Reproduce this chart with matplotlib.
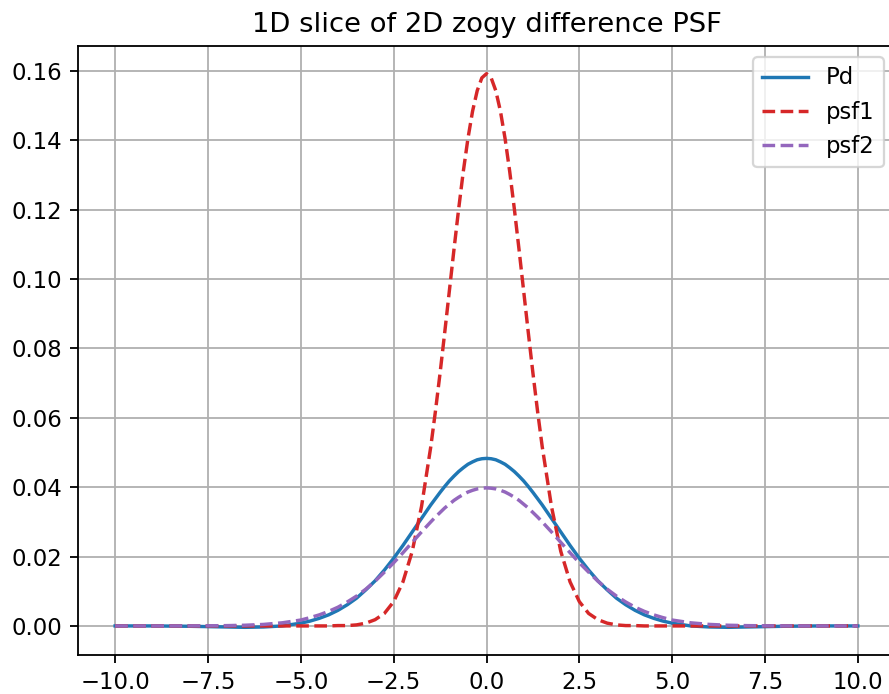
import matplotlib
matplotlib.use('Agg')
import matplotlib.pyplot as plt

# posiciones del corte 1D (más finas cerca del pico)
x = [-10.0, -9.5, -9.0, -8.5, -8.0, -7.5, -7.0, -6.5, -6.0, -5.5,
     -5.0, -4.75, -4.5, -4.25, -4.0, -3.75, -3.5, -3.25, -3.0, -2.75,
     -2.5, -2.25, -2.0, -1.75, -1.5, -1.375, -1.25, -1.125, -1.0, -0.875,
     -0.75, -0.625, -0.5, -0.375, -0.25, -0.125,
     0.0,
     0.125, 0.25, 0.375, 0.5, 0.625, 0.75, 0.875, 1.0, 1.125, 1.25,
     1.375, 1.5, 1.75, 2.0, 2.25, 2.5, 2.75, 3.0, 3.25, 3.5,
     3.75, 4.0, 4.25, 4.5, 4.75, 5.0,
     5.5, 6.0, 6.5, 7.0, 7.5, 8.0, 8.5, 9.0, 9.5, 10.0]

pd_vals = [0.0, 0.0, 0.0, -0.00005, -0.0001, -0.0002, -0.0003, -0.0004, -0.0003, 0.0,
           0.0008, 0.0014, 0.0022, 0.0032, 0.0045, 0.0061, 0.0080, 0.0104, 0.0130, 0.0161,
           0.0195, 0.0232, 0.0271, 0.0310, 0.0349, 0.0367, 0.0385, 0.0402, 0.0418, 0.0432,
           0.0445, 0.0456, 0.0466, 0.0473, 0.0479, 0.0482,
           0.0483,
           0.0482, 0.0479, 0.0473, 0.0466, 0.0456, 0.0445, 0.0432, 0.0418, 0.0402, 0.0385,
           0.0367, 0.0349, 0.0310, 0.0271, 0.0232, 0.0195, 0.0161, 0.0130, 0.0104, 0.0080,
           0.0061, 0.0045, 0.0032, 0.0022, 0.0014, 0.0008,
           0.0, -0.0003, -0.0004, -0.0003, -0.0002, -0.0001, -0.00005, 0.0, 0.0, 0.0]

psf1_vals = [0.0, 0.0, 0.0, 0.0, 0.0, 0.0, 0.0, 0.0, 0.0, 0.0,
             0.0, 0.0, 0.0, 0.0, 0.0001, 0.0001, 0.0003, 0.0008, 0.0018, 0.0036,
             0.0070, 0.0127, 0.0215, 0.0344, 0.0517, 0.0619, 0.0729, 0.0846, 0.0966, 0.1086,
             0.1202, 0.1310, 0.1405, 0.1484, 0.1543, 0.1580,
             0.1592,
             0.1580, 0.1543, 0.1484, 0.1405, 0.1310, 0.1202, 0.1086, 0.0966, 0.0846, 0.0729,
             0.0619, 0.0517, 0.0344, 0.0215, 0.0127, 0.0070, 0.0036, 0.0018, 0.0008, 0.0003,
             0.0001, 0.0001, 0.0, 0.0, 0.0, 0.0,
             0.0, 0.0, 0.0, 0.0, 0.0, 0.0, 0.0, 0.0, 0.0, 0.0]

psf2_vals = [0.0, 0.0, 0.0, 0.0, 0.00001, 0.00004, 0.00009, 0.0002, 0.00044, 0.0009,
             0.0017, 0.0024, 0.0032, 0.0042, 0.0054, 0.0069, 0.0086, 0.0106, 0.0129, 0.0155,
             0.0182, 0.0211, 0.0241, 0.0271, 0.0300, 0.0314, 0.0327, 0.0340, 0.0351, 0.0362,
             0.0371, 0.0379, 0.0386, 0.0391, 0.0395, 0.0397,
             0.0398,
             0.0397, 0.0395, 0.0391, 0.0386, 0.0379, 0.0371, 0.0362, 0.0351, 0.0340, 0.0327,
             0.0314, 0.0300, 0.0271, 0.0241, 0.0211, 0.0182, 0.0155, 0.0129, 0.0106, 0.0086,
             0.0069, 0.0054, 0.0042, 0.0032, 0.0024, 0.0017,
             0.0009, 0.00044, 0.0002, 0.00009, 0.00004, 0.00001, 0.0, 0.0, 0.0, 0.0]

DPI = 164
fig = plt.figure(figsize=(889 / DPI, 694 / DPI), dpi=DPI)
# el eje derecho queda un poco fuera de la imagen, como en el original
ax = fig.add_axes([78 / 889, 39 / 694, 817 / 889, 609 / 694])

ax.plot(x, pd_vals, color='tab:blue', label='Pd')
ax.plot(x, psf1_vals, '--', color='tab:red', label='psf1')
ax.plot(x, psf2_vals, '--', color='tab:purple', label='psf2')

ax.set_title('1D slice of 2D zogy difference PSF')
ax.grid(True)
ax.legend(loc='upper right')

fig.savefig('out.png', dpi=DPI)
